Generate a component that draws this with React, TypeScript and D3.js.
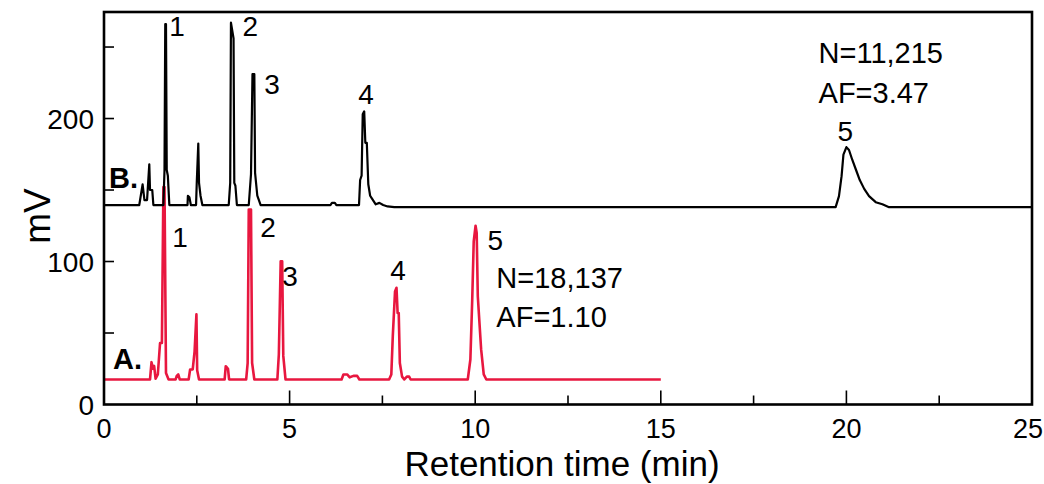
import React from "react";
import * as d3 from "d3";

// Chromatogram B (upper, black trace): [retention time (min), signal (mV)]
const traceB: [number, number][] = [
  [0, 139.5], [0.95, 139.5], [1.04, 154], [1.09, 143], [1.16, 143], [1.22, 168],
  [1.24, 150], [1.3, 150], [1.33, 139.5], [1.6, 139.5], [1.63, 164], [1.65, 266],
  [1.67, 266], [1.69, 164], [1.72, 160], [1.76, 139.5], [2.25, 139.5], [2.26, 146],
  [2.3, 145], [2.34, 139.5], [2.48, 139.5], [2.5, 156], [2.54, 182.5], [2.56, 155],
  [2.6, 146], [2.65, 139.5], [3.36, 139.5], [3.4, 155], [3.42, 267], [3.49, 256],
  [3.51, 155], [3.54, 153], [3.58, 139.5], [3.9, 139.5], [3.96, 161], [4.0, 231],
  [4.05, 231], [4.07, 162], [4.13, 146], [4.22, 139.5], [6.1, 139.5], [6.14, 141],
  [6.22, 141], [6.26, 139.5], [6.87, 139.5], [6.9, 157], [6.94, 160], [6.97, 203],
  [7.01, 205], [7.04, 183], [7.08, 183], [7.12, 154], [7.17, 146], [7.22, 144],
  [7.32, 140], [7.42, 141], [7.52, 139.5], [7.64, 138.5], [7.82, 138], [19.71, 138],
  [19.8, 145.7], [19.87, 159.7], [19.92, 174.8], [20.0, 180], [20.07, 178],
  [20.16, 171], [20.26, 164], [20.36, 157], [20.48, 150.8], [20.61, 145.7],
  [20.79, 141.5], [20.97, 140], [21.15, 138], [25, 138],
];

// Chromatogram A (lower, red trace)
const traceA: [number, number][] = [
  [0, 17.5], [1.24, 17.5], [1.28, 29.6], [1.32, 25], [1.35, 27], [1.39, 18],
  [1.45, 21], [1.51, 43], [1.56, 43], [1.6, 152], [1.63, 152], [1.67, 22],
  [1.74, 17.5], [1.93, 17.5], [1.96, 20], [2.0, 21], [2.04, 17.5], [2.28, 17.5],
  [2.32, 24.5], [2.39, 24.5], [2.44, 37], [2.49, 63], [2.51, 24], [2.56, 17.5],
  [3.25, 17.5], [3.28, 26.8], [3.34, 25], [3.37, 17.5], [3.83, 17.5], [3.87, 29],
  [3.9, 136.4], [3.96, 136.4], [3.99, 29], [4.05, 17.5], [4.67, 17.5], [4.71, 35],
  [4.76, 100.2], [4.8, 100.2], [4.83, 34], [4.89, 17.5], [6.4, 17.5], [6.45, 21],
  [6.55, 21], [6.62, 19], [6.72, 20], [6.82, 20], [6.88, 17.5], [7.68, 17.5],
  [7.74, 21], [7.78, 47.8], [7.84, 79], [7.88, 81.6], [7.91, 64], [7.94, 64],
  [7.97, 29], [8.03, 19.5], [8.09, 17.5], [8.16, 19.5], [8.22, 19.5], [8.26, 17.5],
  [9.8, 17.5], [9.87, 31.5], [9.92, 73.4], [9.96, 114], [10.01, 125], [10.04, 120],
  [10.07, 75.7], [10.16, 38.5], [10.23, 21], [10.3, 17.5], [15, 17.5],
];

// Axis ticks
const xTicks = [0, 2.5, 5, 7.5, 10, 12.5, 15, 17.5, 20, 22.5, 25];
const xTickLabels = ["0", "5", "10", "15", "20", "25"];
const yTicks = [0, 50, 100, 150, 200, 250];
const yTickLabels = ["0", "100", "200"];

// Peak numbers, anchored in data units (time, mV)
const peakLabelsB = [
  { text: "1", t: 1.97, v: 258 },
  { text: "2", t: 3.94, v: 258 },
  { text: "3", t: 4.53, v: 217 },
  { text: "4", t: 7.06, v: 210 },
  { text: "5", t: 19.97, v: 184.5 },
];
const peakLabelsA = [
  { text: "1", t: 2.05, v: 110 },
  { text: "2", t: 4.42, v: 117 },
  { text: "3", t: 5.01, v: 83 },
  { text: "4", t: 7.92, v: 87 },
  { text: "5", t: 10.54, v: 108 },
];
const statsB = ["N=11,215", "AF=3.47"];
const statsA = ["N=18,137", "AF=1.10"];

const W = 1044;
const H = 484;
const FONT = "'Liberation Sans', Arial, Helvetica, sans-serif";
const RED = "#e8173f";

export default function App() {
  const x = d3.scaleLinear().domain([0, 25]).range([104, 1032]);
  const y = d3.scaleLinear().domain([0, 274.5]).range([404.5, 12]);
  const line = d3
    .line<[number, number]>()
    .x((d) => x(d[0]))
    .y((d) => y(d[1]));

  return (
    <svg
      width={W}
      height={H}
      style={{ position: "absolute", left: 0, top: 0, background: "#fff" }}
      fontFamily={FONT}
    >
      {/* traces */}
      <path d={line(traceA) ?? ""} fill="none" stroke={RED} strokeWidth={2.6} strokeLinejoin="round" />
      <path d={line(traceB) ?? ""} fill="none" stroke="#000" strokeWidth={2.2} strokeLinejoin="round" />

      {/* frame */}
      <rect
        x={x(0)}
        y={y(274.5)}
        width={x(25) - x(0)}
        height={y(0) - y(274.5)}
        fill="none"
        stroke="#000"
        strokeWidth={2.6}
      />

      {/* x ticks (inward) */}
      {xTicks.map((t) => {
        const major = t % 5 === 0;
        if (t === 0 || t === 25) return null;
        return (
          <line
            key={`xt${t}`}
            x1={x(t)}
            x2={x(t)}
            y1={y(0)}
            y2={y(0) - (major ? 14 : 9)}
            stroke="#000"
            strokeWidth={1.6}
          />
        );
      })}
      {xTickLabels.map((s, i) => (
        <text
          key={`xl${s}`}
          x={x(+s) - (i === xTickLabels.length - 1 ? 4 : 0)}
          y={438}
          fontSize={27}
          textAnchor="middle"
          fill="#000"
        >
          {s}
        </text>
      ))}

      {/* y ticks (inward) */}
      {yTicks.map((v) =>
        v === 0 ? null : (
          <line key={`yt${v}`} x1={x(0)} x2={x(0) + 10} y1={y(v)} y2={y(v)} stroke="#000" strokeWidth={1.6} />
        )
      )}
      {yTickLabels.map((s) => (
        <text key={`yl${s}`} x={94} y={y(+s) + 10} fontSize={28} textAnchor="end" fill="#000">
          {s}
        </text>
      ))}

      {/* axis titles */}
      <text x={562} y={476} fontSize={35} textAnchor="middle" fill="#000">
        Retention time (min)
      </text>
      <text
        transform={`translate(50,${216}) rotate(-90)`}
        fontSize={37}
        textAnchor="middle"
        fill="#000"
      >
        mV
      </text>

      {/* trace tags */}
      <text x={109} y={188} fontSize={29} fontWeight="bold" fill="#000">
        B.
      </text>
      <text x={113} y={369} fontSize={29} fontWeight="bold" fill="#000">
        A.
      </text>

      {/* peak numbers */}
      {peakLabelsB.map((p) => (
        <text key={`pb${p.text}`} x={x(p.t)} y={y(p.v)} fontSize={28} textAnchor="middle" fill="#000">
          {p.text}
        </text>
      ))}
      {peakLabelsA.map((p) => (
        <text key={`pa${p.text}`} x={x(p.t)} y={y(p.v)} fontSize={28} textAnchor="middle" fill="#000">
          {p.text}
        </text>
      ))}

      {/* plate count / asymmetry notes */}
      {statsB.map((s, i) => (
        <text key={`sb${i}`} x={x(19.25)} y={63 + i * 40} fontSize={29} fill="#000">
          {s}
        </text>
      ))}
      {statsA.map((s, i) => (
        <text key={`sa${i}`} x={x(10.57)} y={288 + i * 39} fontSize={29} fill="#000">
          {s}
        </text>
      ))}
    </svg>
  );
}
